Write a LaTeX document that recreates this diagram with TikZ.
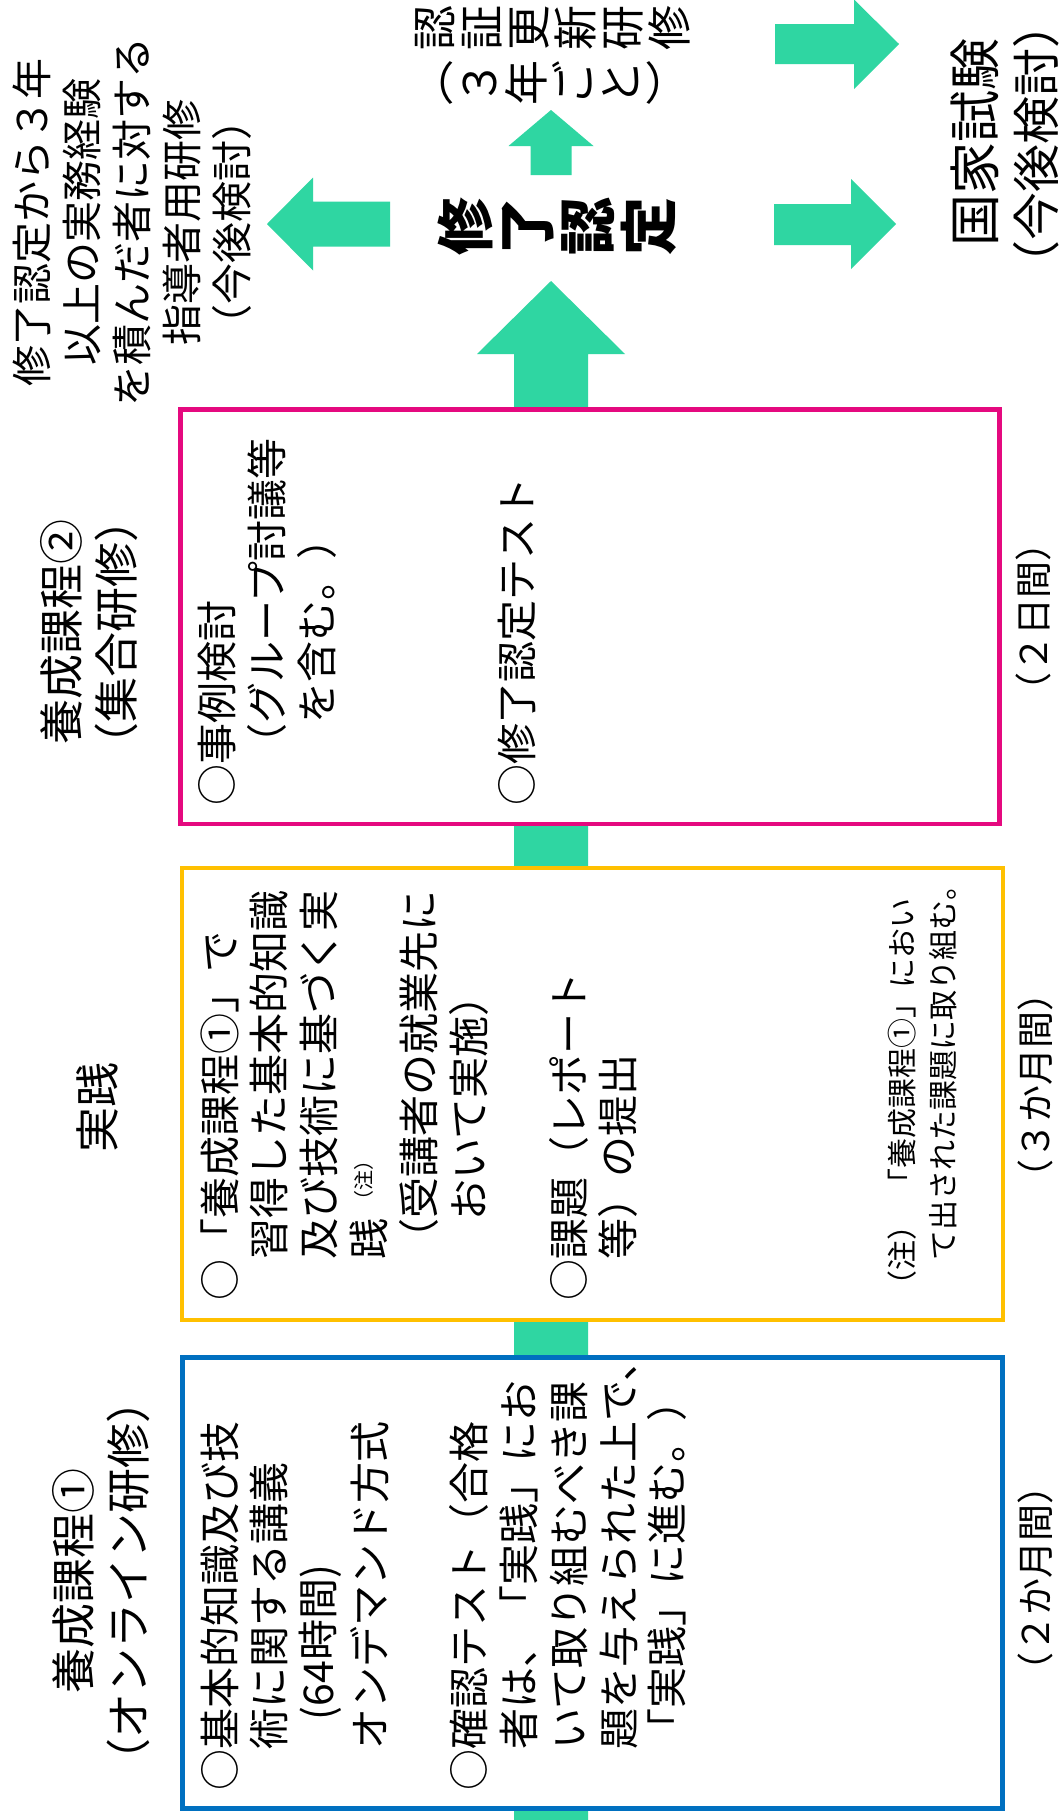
\documentclass[tikz,border=0pt]{standalone}
\usepackage{fontspec}
\setmainfont{Noto Sans CJK JP}
\definecolor{arrowgreen}{HTML}{2FD6A2}
\definecolor{boxpink}{HTML}{E5097F}
\definecolor{boxyellow}{HTML}{FFC000}
\definecolor{boxblue}{HTML}{0070C0}
\newcommand{\tcell}[1]{\rule[-0.12em]{0pt}{1em}#1}
\begin{document}
\begin{tikzpicture}[x=1pt,y=-1pt,
  rt/.style={rotate=90, inner sep=0pt, outer sep=0pt},
  bodyline/.style={rt, anchor=west, font=\fontsize{41}{50}\selectfont},
  noteline/.style={rt, anchor=west, font=\fontsize{30}{41}\selectfont},
  stagelabel/.style={rt, align=center, font=\fontsize{45}{55}\selectfont},
  durlabel/.style={rt, font=\fontsize{37}{44}\selectfont},
  blockarrow/.style={fill=arrowgreen, draw=none},
  stagebox/.style={draw=#1, line width=4.5pt, fill=white, inner sep=0pt},
]
\useasboundingbox (0,0) rectangle (1062,1820);
\fill[white] (0,0) rectangle (1062,1820);

% main flow arrow behind the boxes
\fill[blockarrow] (551,281) -- (625,354) -- (588,354) -- (588,1820) -- (514,1820) -- (514,354) -- (477,354) -- cycle;

% stage boxes
\node[stagebox=boxpink, minimum width=819pt, minimum height=414.5pt] (kotei2) at (590,616.75) {};
\node[stagebox=boxyellow, minimum width=821pt, minimum height=452pt] (jissen) at (592.5,1094) {};
\node[stagebox=boxblue, minimum width=820pt, minimum height=451pt] (kotei1) at (592.5,1583) {};

% other block arrows
\fill[blockarrow] (551,110) -- (593.5,146) -- (571.5,146) -- (571.5,175) -- (530.5,175) -- (530.5,146) -- (508.5,146) -- cycle;
\fill[blockarrow] (267,224) -- (313,177.5) -- (313,201.5) -- (390,201.5) -- (390,246.5) -- (313,246.5) -- (313,270.5) -- cycle;
\fill[blockarrow] (899,44) -- (854,-0.5) -- (854,24) -- (775,24) -- (775,64) -- (854,64) -- (854,89) -- cycle;
\fill[blockarrow] (896,224) -- (851,179) -- (851,204) -- (774,204) -- (774,245) -- (851,245) -- (851,269) -- cycle;

% top texts
\node[rt, align=center, font=\fontsize{41}{50}\selectfont] (leader) at (132,222) {修了認定から３年\\以上の実務経験\\を積んだ者に対する\\指導者用研修\\（今後検討）};
\node[rt, align=center, font=\bfseries\fontsize{58}{61}\selectfont] (shuryo) at (556.5,226.5) {\tcell{修}\\了\\認\\\tcell{定}};
\node[rt, align=center, font=\fontsize{45}{47}\selectfont] (koshin) at (551.5,27.5) {\tcell{認}\\証\\更\\新\\研\\\tcell{修}};
\node[rt, align=center, font=\fontsize{45}{47}\selectfont] (koshinb) at (550,82.5) {\tcell{︵}\\３\\年\\ご\\と\\\tcell{︶}};
\node[rt, font=\fontsize{52}{62}\selectfont] (kokka) at (975,142) {国家試験};
\node[rt, font=\fontsize{48}{62}\selectfont] (kokkab) at (1036,144) {（今後検討）};

% stage labels
\node[stagelabel] (lab2) at (89.5,632) {養成課程②\\（集合研修）};
\node[stagelabel] (lab0) at (97,1107) {実践};
\node[stagelabel] (lab1) at (101,1581) {養成課程①\\（オンライン研修）};

% durations
\node[durlabel] (dur2) at (1033,617) {（２日間）};
\node[durlabel] (dur0) at (1035,1085) {（３か月間）};
\node[durlabel] (dur1) at (1035,1578) {（２か月間）};

% pink box contents
\node[bodyline] (p1) at (217,805) {○事例検討};
\node[bodyline] (p2) at (267,764) {（グループ討議等};
\node[bodyline] (p3) at (317,723) {を含む。）};
\node[bodyline] (p4) at (517,805) {○修了認定テスト};

% yellow box contents
\node[bodyline] (y1) at (220,1300) {○「養成課程①」で};
\node[bodyline] (y2) at (269,1259) {習得した基本的知識};
\node[bodyline] (y3) at (319,1259) {及び技術に基づく実};
\node[bodyline] (y4) at (369,1259) {践\hspace{8pt}\raisebox{13pt}{\fontsize{20}{20}\selectfont （注）}};
\node[bodyline] (y5) at (419,1259) {（受講者の就業先に};
\node[bodyline] (y6) at (469,1220) {おいて実施）};
\node[bodyline] (y7) at (569,1300) {○課題（レポート};
\node[bodyline] (y8) at (618,1259) {等）の提出};
\node[noteline] (n1) at (902,1300) {（注）\hspace{12pt}「養成課程①」におい};
\node[noteline] (n2) at (943,1260) {て出された課題に取り組む。};

% blue box contents
\node[bodyline] (b1) at (220,1790) {○基本的知識及び技};
\node[bodyline] (b2) at (269,1749) {術に関する講義};
\node[bodyline] (b3) at (320,1720) {(64時間)};
\node[bodyline] (b4) at (370,1749) {オンデマンド方式};
\node[bodyline] (b5) at (469,1790) {○確認テスト（合格};
\node[bodyline] (b6) at (519,1749) {者は、「実践」にお};
\node[bodyline] (b7) at (569,1749) {いて取り組むべき課};
\node[bodyline] (b8) at (619,1749) {題を与えられた上で、};
\node[bodyline] (b9) at (667,1749) {「実践」に進む。）};
\end{tikzpicture}
\end{document}
